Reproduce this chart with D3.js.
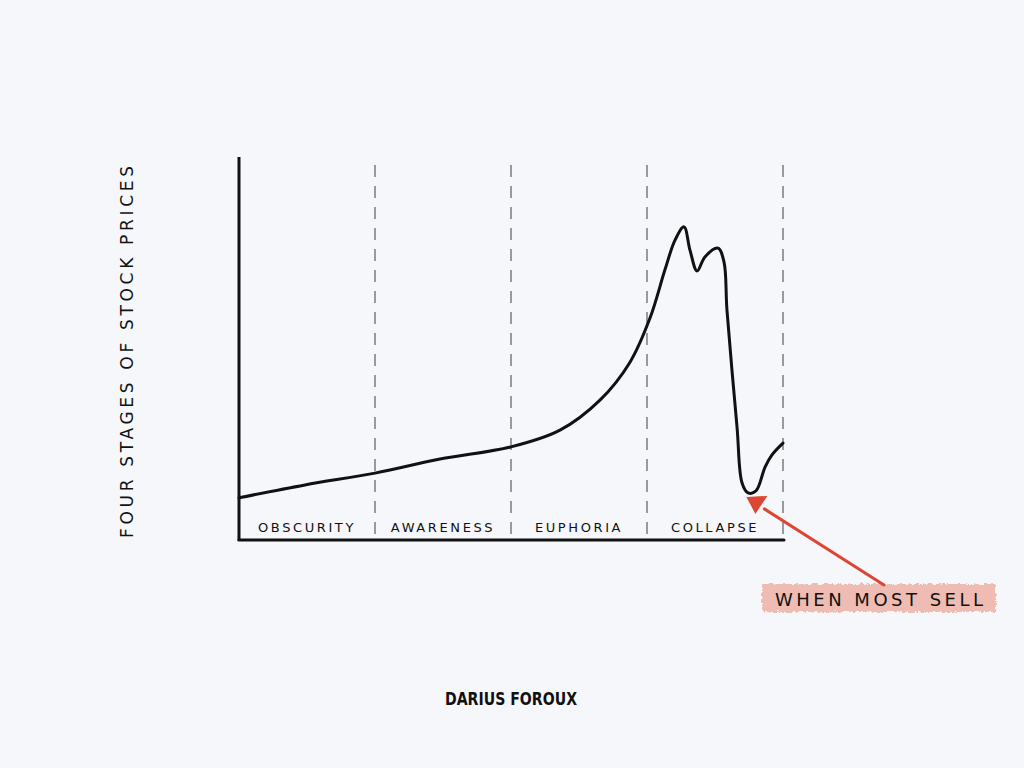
<!DOCTYPE html>
<html>
<head>
<meta charset="utf-8">
<script src="https://cdn.jsdelivr.net/npm/d3@7"></script>
<style>
  body { margin: 0; background: #f6f7fb; }
  svg { display: block; }
  text { font-family: "DejaVu Sans", sans-serif; fill: #111; }
</style>
</head>
<body>
<svg></svg>
<script>
var stages = ["OBSCURITY", "AWARENESS", "EUPHORIA", "COLLAPSE"];
// x in stage units (0 = start of obscurity, 4 = end of collapse)
var priceX = [0, 0.485, 1, 1.478, 2, 2.36, 2.654, 2.875, 3.022, 3.132, 3.206, 3.272, 3.316, 3.368, 3.426, 3.522, 3.566, 3.588, 3.662, 3.699, 3.743, 3.801, 3.868, 3.919, 4];
var priceY = [11.1, 14.5, 17.6, 21.3, 24.5, 28.9, 36.8, 46.8, 58.4, 71.1, 78.9, 82.4, 76.3, 70.8, 74.5, 76.8, 73.2, 60.5, 29.7, 15.0, 12.4, 12.9, 19.2, 22.4, 25.5];
var yTitle = "FOUR STAGES OF STOCK PRICES";
var noteText = "WHEN MOST SELL";
var noteAt = [3.76, 12.4];
var credit = "DARIUS FOROUX";

var svgWidth = 1024;
var svgHeight = 768;
var svg = d3.select("svg")
  .attr("width", svgWidth)
  .attr("height", svgHeight);

var x = d3.scaleLinear().domain([0, 4]).range([239, 783]);
var y = d3.scaleLinear().domain([0, 100]).range([540, 160]);

// rough edge filter for the highlighter
var defs = svg.append("defs");
var f = defs.append("filter").attr("id", "rough")
  .attr("x", "-5%").attr("y", "-30%").attr("width", "110%").attr("height", "160%");
f.append("feTurbulence").attr("type", "fractalNoise").attr("baseFrequency", 0.35)
  .attr("numOctaves", 2).attr("seed", 4).attr("result", "noise");
f.append("feDisplacementMap").attr("in", "SourceGraphic").attr("in2", "noise")
  .attr("scale", 6).attr("xChannelSelector", "R").attr("yChannelSelector", "G");

// dashed stage separators
svg.selectAll(".sep")
  .data([1, 2, 3, 4])
  .enter()
  .append("line")
  .attr("class", "sep")
  .attr("x1", function(d) { return x(d); })
  .attr("x2", function(d) { return x(d); })
  .attr("y1", 165)
  .attr("y2", 538)
  .attr("stroke", "#9a9a9a")
  .attr("stroke-width", 2)
  .attr("stroke-dasharray", "12,9");

// axes
svg.append("line")
  .attr("x1", x(0)).attr("x2", x(0))
  .attr("y1", 157).attr("y2", 541)
  .attr("stroke", "#111").attr("stroke-width", 3);
svg.append("line")
  .attr("x1", x(0)).attr("x2", x(4) + 1)
  .attr("y1", y(0)).attr("y2", y(0))
  .attr("stroke", "#111").attr("stroke-width", 3)
  .attr("stroke-linecap", "round");

// stage labels
svg.selectAll(".stage")
  .data(stages)
  .enter()
  .append("text")
  .attr("class", "stage")
  .attr("x", function(d, i) { return x(i + 0.5); })
  .attr("y", 532)
  .attr("text-anchor", "middle")
  .attr("font-size", 13)
  .attr("letter-spacing", 2.6)
  .text(function(d) { return d; });

// price line
var pts = priceX.map(function(d, i) { return [d, priceY[i]]; });
var line = d3.line()
  .x(function(d) { return x(d[0]); })
  .y(function(d) { return y(d[1]); })
  .curve(d3.curveCatmullRom.alpha(0.5));
svg.append("path")
  .datum(pts)
  .attr("d", line)
  .attr("fill", "none")
  .attr("stroke", "#111")
  .attr("stroke-width", 3)
  .attr("stroke-linecap", "round")
  .attr("stroke-linejoin", "round");

// y title
svg.append("text")
  .attr("transform", "translate(133,352) rotate(-90)")
  .attr("text-anchor", "middle")
  .attr("font-size", 17)
  .attr("textLength", 372)
  .attr("lengthAdjust", "spacing")
  .text(yTitle);

// annotation
var tipX = x(noteAt[0]) - 4, tipY = y(noteAt[1]) + 4;
svg.append("rect")
  .attr("x", 762).attr("y", 584)
  .attr("width", 234).attr("height", 28)
  .attr("fill", "#efbcb3")
  .attr("filter", "url(#rough)");
svg.append("line")
  .attr("x1", tipX + 18).attr("y1", tipY + 12)
  .attr("x2", 884).attr("y2", 585)
  .attr("stroke", "#dc4632").attr("stroke-width", 3)
  .attr("stroke-linecap", "round");
svg.append("path")
  .attr("d", "M" + tipX + "," + tipY + " L" + (tipX + 21) + "," + (tipY - 1) + " L" + (tipX + 9) + "," + (tipY + 17) + "Z")
  .attr("fill", "#dc4632");
svg.append("text")
  .attr("x", 879).attr("y", 606)
  .attr("text-anchor", "middle")
  .attr("font-size", 18)
  .attr("textLength", 208)
  .attr("lengthAdjust", "spacing")
  .text(noteText);

// signature
svg.append("text")
  .attr("x", 511).attr("y", 705)
  .attr("text-anchor", "middle")
  .attr("font-size", 17)
  .attr("font-weight", "bold")
  .attr("textLength", 132)
  .attr("lengthAdjust", "spacingAndGlyphs")
  .text(credit);
</script>
</body>
</html>
